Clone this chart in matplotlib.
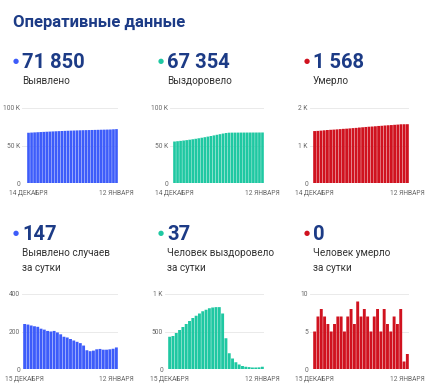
import matplotlib
matplotlib.use("Agg")
import matplotlib.pyplot as plt

plt.rcParams['font.family'] = ['Roboto', 'DejaVu Sans']

W, H = 430, 389

# накопленные данные, 14 декабря - 12 января
cum_cases = [67000, 67240, 67475, 67705, 67930, 68150, 68360, 68565, 68765, 68965,
             69160, 69345, 69520, 69690, 69850, 70000, 70145, 70280, 70405, 70505,
             70600, 70700, 70805, 70910, 71015, 71120, 71225, 71335, 71600, 71850]
cum_recovered = [55300, 55730, 56170, 56650, 57170, 57730, 58330, 58970, 59650, 60360,
                 61100, 61870, 62660, 63470, 64290, 65115, 65940, 66680, 67090, 67150,
                 67190, 67220, 67240, 67260, 67280, 67295, 67310, 67320, 67335, 67354]
cum_deaths = [1385, 1390, 1397, 1405, 1413, 1419, 1424, 1430, 1437, 1444,
              1449, 1456, 1464, 1470, 1479, 1486, 1494, 1501, 1506, 1513,
              1521, 1526, 1534, 1540, 1545, 1552, 1558, 1566, 1567, 1568]

# за сутки, 15 декабря - 12 января
day_cases = [240, 237, 232, 228, 225, 215, 210, 203, 200, 203, 195, 185, 172, 168, 160,
             152, 145, 138, 125, 100, 95, 98, 105, 107, 103, 103, 105, 108, 115]
day_recovered = [430, 440, 480, 520, 560, 600, 640, 680, 710, 740, 770, 790, 810, 820, 825,
                 825, 740, 410, 210, 140, 90, 60, 40, 30, 25, 20, 20, 22, 30]
day_deaths = [5, 7, 8, 7, 6, 5, 6, 7, 7, 5, 7, 8, 6, 9, 7, 8, 7, 5, 7, 8,
              5, 8, 6, 5, 7, 6, 8, 1, 2]

BLUE = '#3d5cfa'
GREEN = '#1fc8a2'
RED = '#d0121f'
NAVY = '#1c3b86'
GRAY = '#666666'

fig = plt.figure(figsize=(W / 100, H / 100), dpi=100)


def px(x, y):
    return x / W, 1 - y / H


def header(x_dot, x_txt, y_num, number, labels, color):
    fig.text(*px(x_dot, y_num - 6), '\u25cf', color=color, fontsize=5,
             ha='center', va='center')
    fig.text(*px(x_txt, y_num), number, color=NAVY, fontsize=14.5,
             fontweight='bold', va='baseline')
    for i, lab in enumerate(labels):
        fig.text(*px(x_txt, y_num + 16 + i * 15), lab, color='#333333',
                 fontsize=7.2, va='baseline')


def chart(data, color, grid_x0, bar_x0, bar_x1, y_top, y_bot, ymax, yticks,
          ylabels, xlabels):
    n = len(data)
    bw = (bar_x1 - bar_x0) / n
    pad = (bar_x0 - grid_x0) / bw
    l, b = px(grid_x0, y_bot)
    ax = fig.add_axes([l, b, (bar_x1 - grid_x0) / W, (y_bot - y_top) / H])
    ax.bar(range(n), data, width=0.88, color=color, zorder=2, snap=False)
    ax.set_xlim(-0.5 - pad, n - 0.5)
    ax.set_ylim(0, ymax)
    ax.set_yticks(yticks)
    ax.set_yticklabels(ylabels)
    ax.set_xticks([0, n - 1])
    ax.set_xticklabels(xlabels)
    ax.tick_params(length=0, labelsize=4.8, labelcolor=GRAY)
    ax.tick_params(axis='y', pad=1.5)
    ax.tick_params(axis='x', pad=5)
    ax.grid(axis='y', color='#e6e6e6', linewidth=0.6, zorder=0)
    for s in ax.spines.values():
        s.set_visible(False)
    return ax


fig.text(*px(13, 27), 'Оперативные данные', color=NAVY, fontsize=12,
         fontweight='bold', va='baseline')

header(16, 22, 68, '71 850', ['Выявлено'], BLUE)
header(161, 167, 68, '67 354', ['Выздоровело'], GREEN)
header(307, 313, 68, '1 568', ['Умерло'], RED)

header(16, 22, 240, '147', ['Выявлено случаев', 'за сутки'], BLUE)
header(161, 167, 240, '37', ['Человек выздоровело', 'за сутки'], GREEN)
header(307, 313, 240, '0', ['Человек умерло', 'за сутки'], RED)

top_x = ['14 ДЕКАБРЯ', '12 ЯНВАРЯ']
bot_x = ['15 ДЕКАБРЯ', '12 ЯНВАРЯ']

chart(cum_cases, BLUE, 22, 27, 118, 108, 183, 100000, [0, 50000, 100000],
      ['0', '50 K', '100 K'], top_x)
chart(cum_recovered, GREEN, 170, 173, 264, 108, 183, 100000, [0, 50000, 100000],
      ['0', '50 K', '100 K'], top_x)
chart(cum_deaths, RED, 310, 313, 409, 108, 183, 2000, [0, 1000, 2000],
      ['0', '1 K', '2 K'], top_x)

chart(day_cases, BLUE, 22, 23, 118, 294, 369, 400, [0, 200, 400],
      ['0', '200', '400'], bot_x)
chart(day_recovered, GREEN, 165, 168, 264, 294, 369, 1000, [0, 500, 1000],
      ['0', '500', '1 K'], bot_x)
chart(day_deaths, RED, 310, 313, 409, 294, 369, 10, [0, 5, 10],
      ['0', '5', '10'], bot_x)

fig.savefig('out.png', dpi=100)
